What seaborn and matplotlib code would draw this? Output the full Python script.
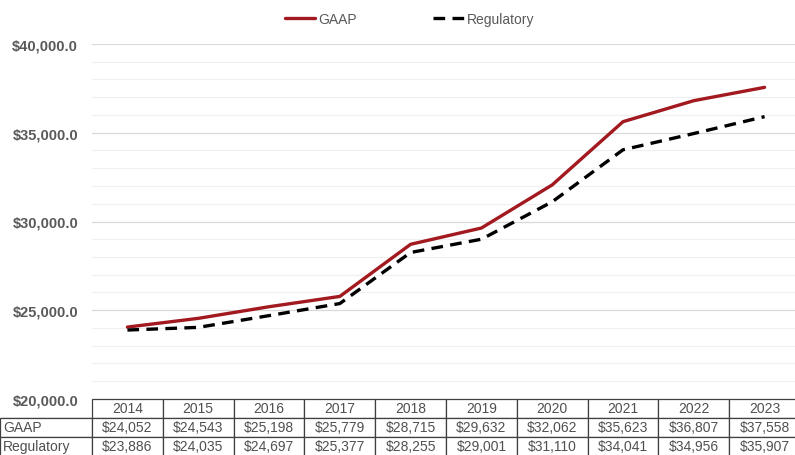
import numpy as np
import pandas as pd
import matplotlib
matplotlib.use("Agg")
import matplotlib.pyplot as plt
from matplotlib.ticker import MultipleLocator, FuncFormatter
import seaborn as sns

years = ["2014", "2015", "2016", "2017", "2018", "2019", "2020", "2021", "2022", "2023"]
gaap = [24052, 24543, 25198, 25779, 28715, 29632, 32062, 35623, 36807, 37558]
regulatory = [23886, 24035, 24697, 25377, 28255, 29001, 31110, 34041, 34956, 35907]

sns.set_style("white")
plt.rcParams["font.family"] = ["Liberation Sans", "DejaVu Sans"]

df = pd.DataFrame({
    "idx": list(range(len(years))) * 2,
    "value": gaap + regulatory,
    "series": ["GAAP"] * len(years) + ["Regulatory"] * len(years),
})

W, H = 795, 456
fig = plt.figure(figsize=(W / 100, H / 100), dpi=100)
# plot area runs past the right edge of the figure, like the reference
left, right, top, bottom = 92, 800, 45, 400
ax = fig.add_axes([left / W, 1 - bottom / H, (right - left) / W, (bottom - top) / H])

sns.lineplot(data=df, x="idx", y="value", hue="series", style="series",
             palette={"GAAP": "#A2191F", "Regulatory": "black"},
             dashes={"GAAP": "", "Regulatory": (3.5, 2.2)},
             linewidth=2.4, ax=ax, legend=False)

ax.set_xlim(-0.5, len(years) - 0.5)
ax.set_ylim(20000, 40000)
ax.yaxis.set_major_locator(MultipleLocator(5000))
ax.yaxis.set_minor_locator(MultipleLocator(1000))
ax.yaxis.set_major_formatter(FuncFormatter(lambda v, p: f"${v:,.1f}"))
ax.grid(which="major", axis="y", color="#D9D9D9", linewidth=0.9)
ax.grid(which="minor", axis="y", color="#F0F0F0", linewidth=0.9)
ax.set_xticks([])
ax.set_xlabel("")
ax.set_ylabel("")
ax.tick_params(axis="y", which="both", length=0, pad=10)
for lbl in ax.get_yticklabels():
    lbl.set_fontweight("bold")
    lbl.set_fontsize(10.5)
    lbl.set_color("#595959")
for s in ax.spines.values():
    s.set_visible(False)

# data table under the plot, first column holds the row labels
cell_text = [["GAAP"] + [f"${v:,}" for v in gaap],
             ["Regulatory"] + [f"${v:,}" for v in regulatory]]
plot_w = right - left
label_w = 92
total_w = plot_w + label_w
row_h = 19 / (bottom - top)
tbl = ax.table(cellText=cell_text, colLabels=[""] + years,
               colWidths=[label_w / total_w] + [plot_w / 10 / total_w] * 10,
               cellLoc="center",
               bbox=[-label_w / plot_w, -3 * row_h, total_w / plot_w, 3 * row_h])
tbl.auto_set_font_size(False)
tbl.set_fontsize(10)
for (r, c), cell in tbl.get_celld().items():
    cell.set_edgecolor("#404040")
    cell.set_linewidth(0.9)
    cell.get_text().set_color("#505050")
    if c == 0:
        cell._loc = "left"
        cell.PAD = 0.03
        cell.get_text().set_horizontalalignment("left")
        if r == 0:
            cell.visible_edges = "B"

handles = [plt.Line2D([], [], color="#A2191F", lw=2.4),
           plt.Line2D([], [], color="black", lw=2.4, dashes=(3.5, 2.2))]
leg = fig.legend(handles, ["GAAP", "Regulatory"], loc="center", ncol=2,
                 bbox_to_anchor=(0.515, 1 - 20 / H), frameon=False,
                 fontsize=10, handlelength=2.2, handletextpad=0.2, columnspacing=5.5)
for t in leg.get_texts():
    t.set_color("#595959")

fig.savefig("out.png", dpi=100)
